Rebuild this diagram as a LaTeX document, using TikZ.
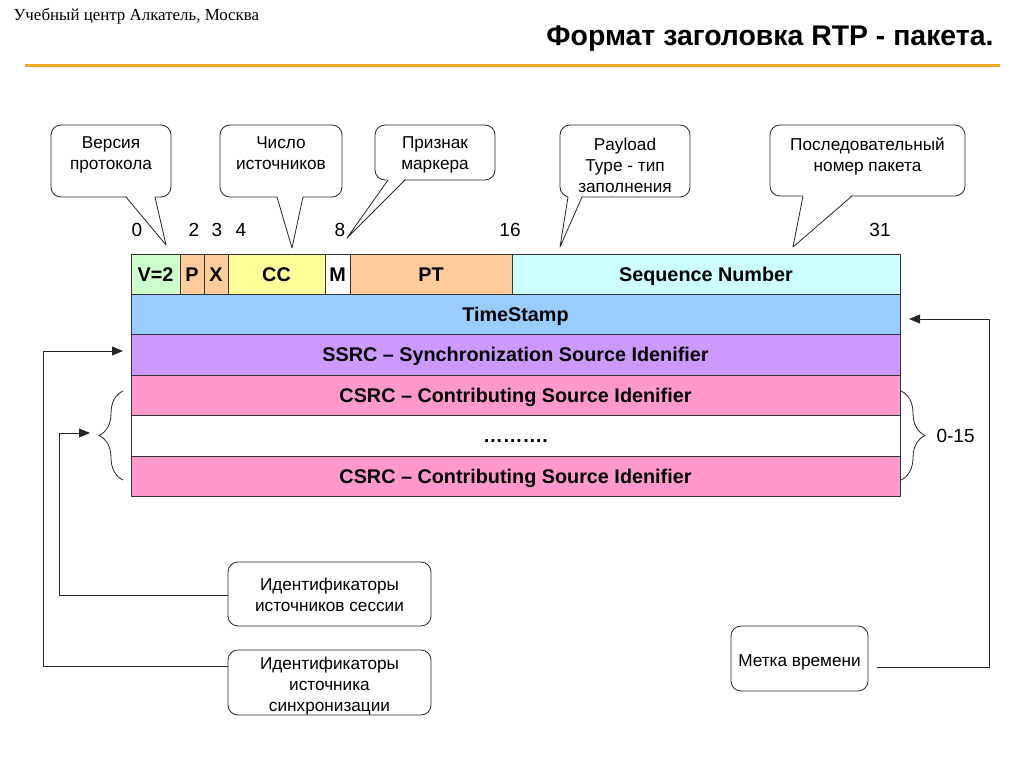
\documentclass[tikz,border=0pt]{standalone}
\usepackage{fontspec}
\setmainfont{Liberation Sans}
\newfontfamily\serifrm{Liberation Serif}
\usetikzlibrary{arrows.meta,decorations.pathreplacing}

\definecolor{vercol}{HTML}{CCFFCC}
\definecolor{ptcol}{HTML}{FFCC99}
\definecolor{cccol}{HTML}{FFFF99}
\definecolor{seqcol}{HTML}{CCFFFF}
\definecolor{tscol}{HTML}{99CCFF}
\definecolor{ssrccol}{HTML}{CC99FF}
\definecolor{csrccol}{HTML}{FF99CC}
\definecolor{rulecol}{HTML}{F5A623}

\begin{document}
\begin{tikzpicture}[x=1pt,y=-1pt,line join=round]
        \tikzstyle{field}=[draw=black!80,line width=0.8pt,anchor=north west,inner sep=0pt,outer sep=0pt,minimum height=40pt,text height=14.3pt,text depth=0pt,font=\fontsize{19.8}{22}\selectfont\bfseries]
        \tikzstyle{remark}=[draw=black!85,line width=0.8pt,rounded corners=10pt,fill=white,align=center,anchor=north,inner sep=0pt,outer sep=0pt,font=\fontsize{17.2}{21}\selectfont]
        \tikzstyle{bit}=[font=\fontsize{19}{21}\selectfont]
        \tikzstyle{link}=[draw=black!85,line width=0.8pt,-{Triangle[length=11pt,width=9pt]}]
        \tikzstyle{brc}=[draw=black!85,line width=0.8pt,decorate,decoration={brace,amplitude=24pt}]
        \useasboundingbox (0,0) rectangle (1024,767);

        % heading
        \node[anchor=west,font=\serifrm\fontsize{16.9}{19}\selectfont] (school) at (10,16) {Учебный центр Алкатель, Москва};
        \node[anchor=east,font=\fontsize{28.4}{32}\selectfont\bfseries] (title) at (997,38.5) {Формат заголовка RTP - пакета.};
        \draw[rulecol,line width=3pt] (25,66) -- (1000,66);

        % header rows
        \node[field,fill=vercol,minimum width=49pt] (ver) at (131,254) {V=2};
        \node[field,fill=ptcol,minimum width=24pt] (pad) at (180,254) {P};
        \node[field,fill=ptcol,minimum width=24pt] (ext) at (204,254) {X};
        \node[field,fill=cccol,minimum width=97pt] (cc) at (228,254) {CC};
        \node[field,fill=white,minimum width=25pt] (mrk) at (325,254) {M};
        \node[field,fill=ptcol,minimum width=162pt] (pt) at (350,254) {PT};
        \node[field,fill=seqcol,minimum width=388pt] (seq) at (512,254) {Sequence Number};
        \node[field,fill=tscol,minimum width=769pt] (ts) at (131,294) {TimeStamp};
        \node[field,fill=ssrccol,minimum width=769pt,minimum height=41pt] (ssrc) at (131,334) {SSRC – Synchronization Source Idenifier};
        \node[field,fill=csrccol,minimum width=769pt] (csrca) at (131,375) {CSRC – Contributing Source Idenifier};
        \node[field,fill=white,minimum width=769pt,minimum height=41pt] (dots) at (131,415) {……….};
        \node[field,fill=csrccol,minimum width=769pt] (csrcb) at (131,456) {CSRC – Contributing Source Idenifier};

        % bit numbers
        \foreach \x/\n in {137/0,194/2,217/3,241/4,340/8,510/16,880/31}
          \node[bit] (bit\n) at (\x,230) {\n};

        % callouts
        \node[remark,minimum width=120pt,text height=45pt,text depth=27pt] (verbox) at (111,125) {Версия\\протокола};
        \node[remark,minimum width=122pt,text height=45pt,text depth=27pt] (ccbox) at (281,125) {Число\\источников};
        \node[remark,minimum width=120pt,text height=45pt,text depth=10pt] (mbox) at (435,125) {Признак\\маркера};
        \node[remark,minimum width=130pt,text height=68pt,text depth=4pt] (ptbox) at (625,125) {Payload\\Type - тип\\заполнения};
        \node[remark,minimum width=195pt,text height=47pt,text depth=24pt] (seqbox) at (867.5,125) {Последовательный\\номер пакета};

        \coordinate (vertip) at (166,245);
        \coordinate (cctip) at (292,248);
        \coordinate (mtip) at (347,238);
        \coordinate (pttip) at (560,247);
        \coordinate (seqtip) at (793,247);

        \fill[white] ([xshift=15pt,yshift=1.5pt]verbox.south) -- (vertip) -- ([xshift=44pt,yshift=1.5pt]verbox.south) -- cycle;
        \draw[black!85,line width=0.8pt] ([xshift=15pt]verbox.south) -- (vertip) -- ([xshift=44pt]verbox.south);
        \fill[white] ([xshift=-4pt,yshift=1.5pt]ccbox.south) -- (cctip) -- ([xshift=22pt,yshift=1.5pt]ccbox.south) -- cycle;
        \draw[black!85,line width=0.8pt] ([xshift=-4pt]ccbox.south) -- (cctip) -- ([xshift=22pt]ccbox.south);
        \fill[white] ([xshift=-47pt,yshift=1.5pt]mbox.south) -- (mtip) -- ([xshift=-30pt,yshift=1.5pt]mbox.south) -- cycle;
        \draw[black!85,line width=0.8pt] ([xshift=-47pt]mbox.south) -- (mtip) -- ([xshift=-30pt]mbox.south);
        \fill[white] ([xshift=-57pt,yshift=1.5pt]ptbox.south) -- (pttip) -- ([xshift=-43pt,yshift=1.5pt]ptbox.south) -- cycle;
        \draw[black!85,line width=0.8pt] ([xshift=-57pt]ptbox.south) -- (pttip) -- ([xshift=-43pt]ptbox.south);
        \fill[white] ([xshift=-64.5pt,yshift=1.5pt]seqbox.south) -- (seqtip) -- ([xshift=-15.5pt,yshift=1.5pt]seqbox.south) -- cycle;
        \draw[black!85,line width=0.8pt] ([xshift=-64.5pt]seqbox.south) -- (seqtip) -- ([xshift=-15.5pt]seqbox.south);

        % braces
        \draw[brc] (123,480) -- (123,391);
        \draw[brc] (901,391) -- (901,480);
        \node[bit,anchor=west] (count) at (933,436) {0-15};

        % identifier boxes
        \node[remark,minimum width=203pt,text height=49.5pt,text depth=14.5pt] (sessbox) at (329.5,562) {Идентификаторы\\источников сессии};
        \node[remark,minimum width=203pt,text height=61.5pt,text depth=3.5pt] (syncbox) at (329.5,650) {Идентификаторы\\источника\\синхронизации};
        \node[remark,minimum width=137pt,text height=40.5pt,text depth=24.5pt] (timebox) at (799.5,626) {Метка времени};

        \coordinate (sesstip) at (90,433);
        \coordinate (ssrctip) at (123,351);
        \coordinate (tstip) at (909,319);

        \draw[link] ([yshift=-1pt]sessbox.west) -| ([xshift=-31pt]sesstip) -- (sesstip);
        \draw[link] ([yshift=16pt]syncbox.west) -| ([xshift=-80pt]ssrctip) -- (ssrctip);
        \draw[link] ([xshift=9pt,yshift=-9pt]timebox.east) -| ([xshift=80pt]tstip) -- (tstip);
\end{tikzpicture}
\end{document}
